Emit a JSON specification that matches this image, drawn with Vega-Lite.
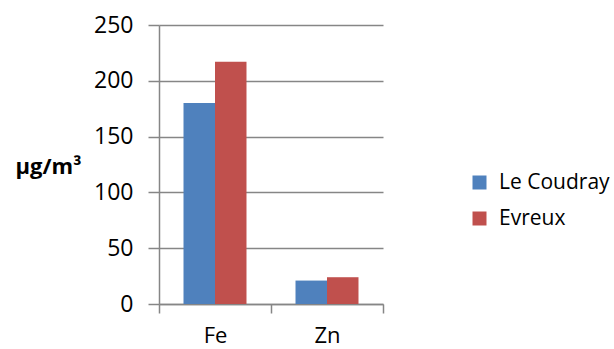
{
  "$schema": "https://vega.github.io/schema/vega-lite/v6.json",
  "width": 224,
  "height": 279,
  "autosize": {"type": "none"},
  "padding": {"left": 159, "top": 25, "right": 231, "bottom": 45},
  "background": "white",
  "config": {
    "view": {"stroke": null},
    "font": "Open Sans",
    "axis": {
      "domainColor": "#868686",
      "tickColor": "#868686",
      "gridColor": "#868686",
      "domainWidth": 1.5,
      "tickWidth": 1.5,
      "gridWidth": 1.5,
      "labelFont": "Open Sans",
      "labelFontSize": 23,
      "labelColor": "#000000"
    }
  },
  "data": {
    "values": [
      {"element": "Fe", "site": "Le Coudray", "value": 180},
      {"element": "Fe", "site": "Evreux", "value": 217},
      {"element": "Zn", "site": "Le Coudray", "value": 21},
      {"element": "Zn", "site": "Evreux", "value": 24}
    ]
  },
  "mark": {"type": "bar"},
  "encoding": {
    "x": {
      "field": "element",
      "type": "nominal",
      "sort": ["Fe", "Zn"],
      "scale": {"paddingInner": 0, "paddingOuter": 0},
      "axis": {
        "title": null,
        "labelAngle": 0,
        "tickBand": "extent",
        "tickSize": 9,
        "labelFontSize": 22,
        "labelPadding": 12,
        "grid": false
      }
    },
    "xOffset": {
      "field": "site",
      "type": "nominal",
      "sort": ["Le Coudray", "Evreux"],
      "scale": {"paddingInner": 0, "paddingOuter": 0.778}
    },
    "y": {
      "field": "value",
      "type": "quantitative",
      "scale": {"domain": [0, 250], "nice": false},
      "axis": {
        "values": [0, 50, 100, 150, 200, 250],
        "grid": true,
        "tickSize": 11,
        "labelPadding": 15,
        "title": "µg/m³",
        "titleAngle": 0,
        "titleFont": "Open Sans",
        "titleFontSize": 22,
        "titleFontWeight": "bold",
        "titleColor": "#000000",
        "titleAlign": "center",
        "titleBaseline": "middle",
        "titleX": -111,
        "titleY": 141
      }
    },
    "color": {
      "field": "site",
      "type": "nominal",
      "sort": ["Le Coudray", "Evreux"],
      "scale": {"domain": ["Le Coudray", "Evreux"], "range": ["#4F81BD", "#C0504D"]},
      "legend": {
        "title": null,
        "orient": "none",
        "legendX": 310,
        "legendY": 147,
        "padding": 0,
        "symbolType": "square",
        "symbolSize": 196,
        "symbolStrokeWidth": 0,
        "labelFont": "Open Sans",
        "labelFontSize": 21,
        "labelColor": "#000000",
        "labelOffset": 9,
        "rowPadding": 14
      }
    }
  }
}
